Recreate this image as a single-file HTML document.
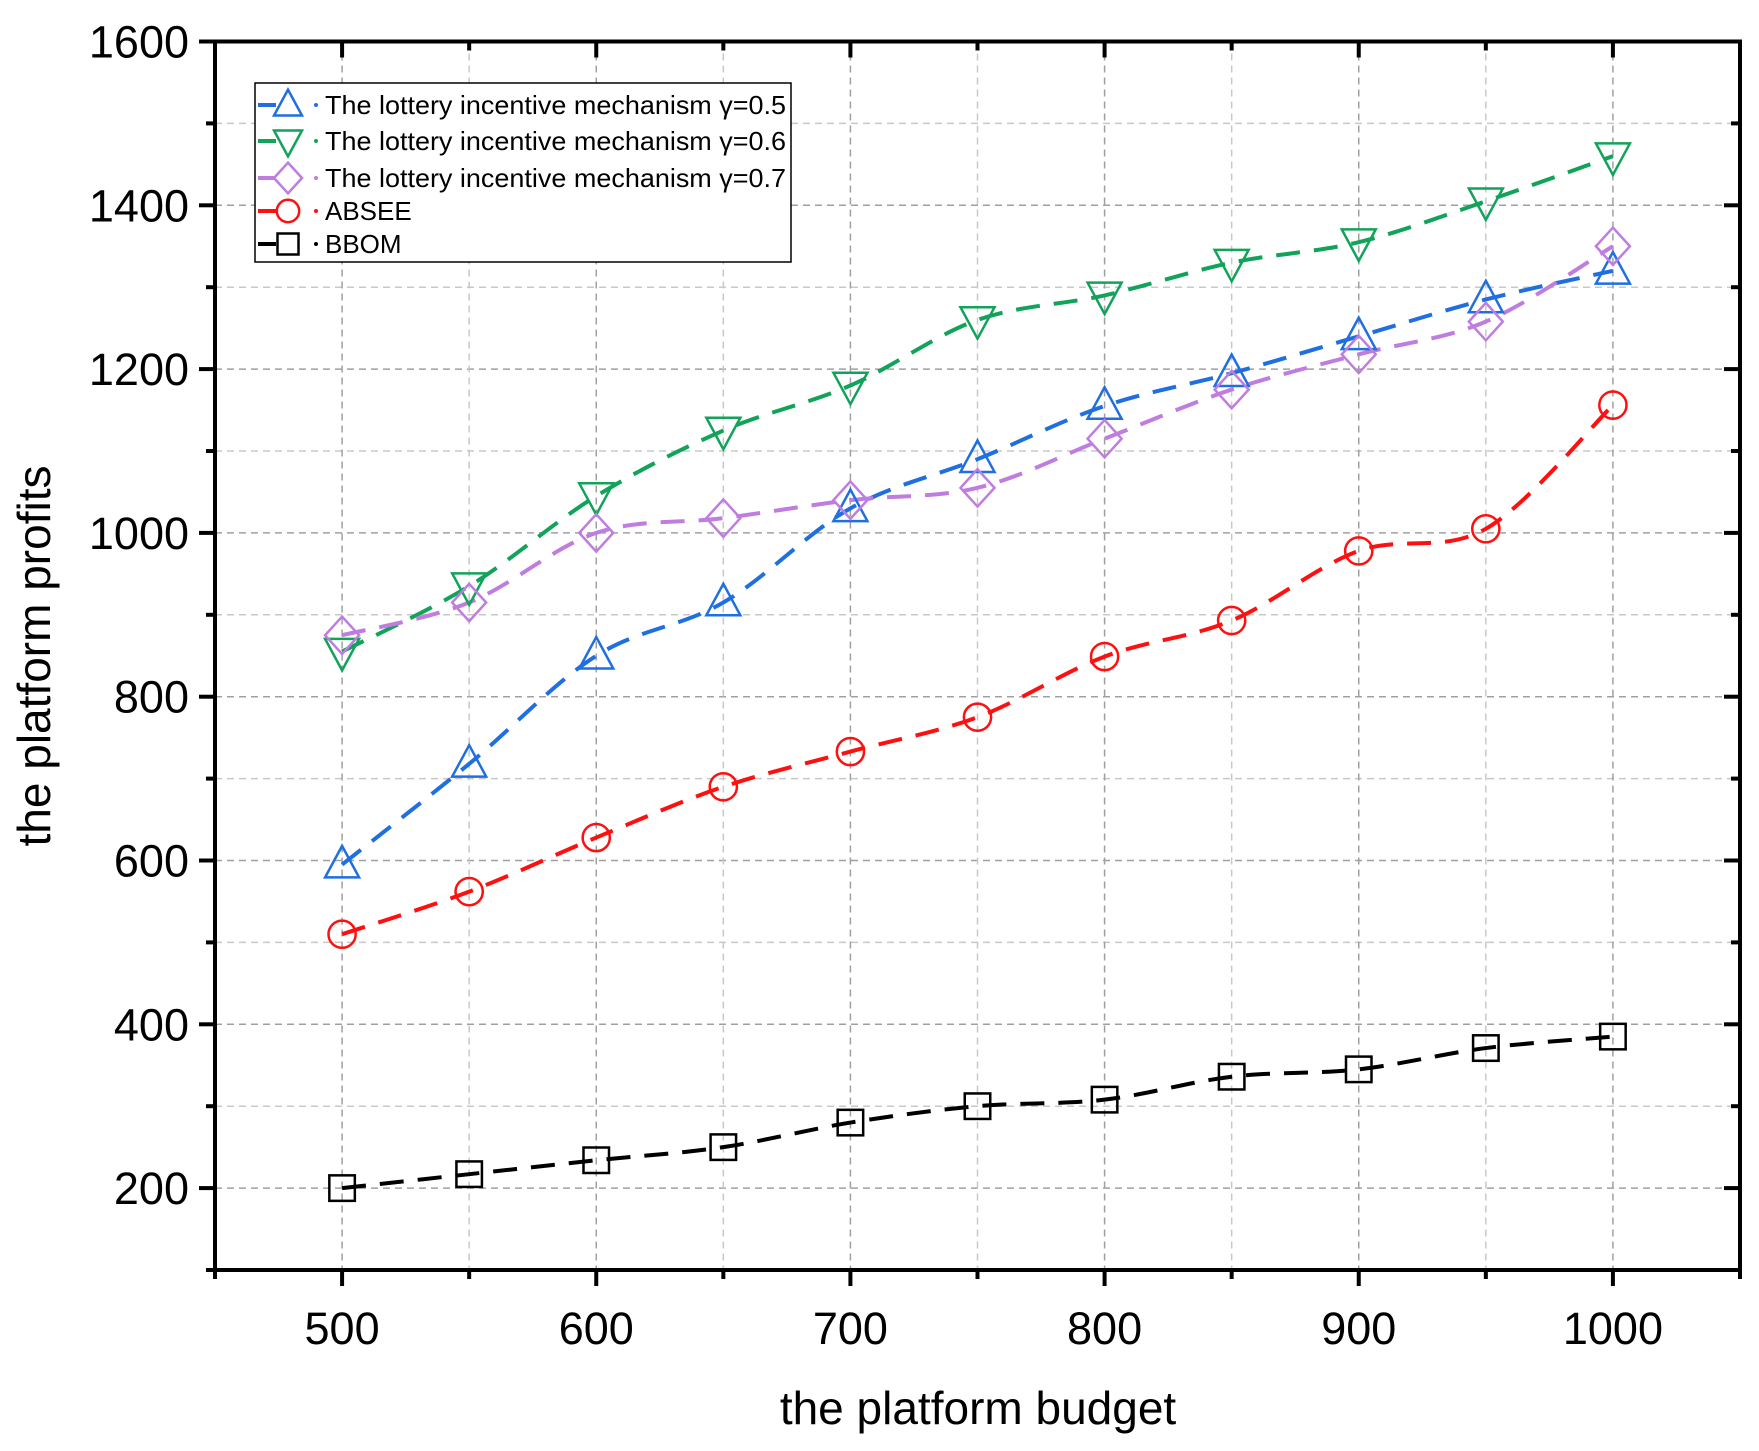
<!DOCTYPE html>
<html><head><meta charset="utf-8"><style>
html,body{margin:0;padding:0;background:#fff;}
svg{display:block;font-family:"Liberation Sans",Arial,sans-serif;}
</style></head><body>
<svg id="s" width="1759" height="1451" xmlns="http://www.w3.org/2000/svg"></svg>
<script>
const s=document.getElementById('s');
const L=215,R=1740,T=41.5,B=1270;
const X=v=>L+(v-450)/600*(R-L);
const Y=v=>T+(1600-v)/1500*(B-T);
let h='';
for(let v=200;v<1600;v+=100){h+=`<line x1="${L}" x2="${R}" y1="${Y(v)}" y2="${Y(v)}" stroke="${v%200?'#c8c8c8':'#a0a0a0'}" stroke-width="1.5" stroke-dasharray="7,5"/>`;}
for(let v=500;v<=1000;v+=50){h+=`<line y1="${T}" y2="${B}" x1="${X(v)}" x2="${X(v)}" stroke="${v%100?'#c8c8c8':'#a0a0a0'}" stroke-width="1.5" stroke-dasharray="7,5"/>`;}
const xs=[500,550,600,650,700,750,800,850,900,950,1000];
const S=[
 {c:'#1f6fe0',m:'tri',d:[595,718,850,915,1030,1090,1155,1195,1240,1285,1320]},
 {c:'#12a35a',m:'inv',d:[855,935,1045,1125,1180,1260,1290,1330,1355,1405,1460]},
 {c:'#c07de0',m:'dia',d:[875,915,1000,1018,1040,1055,1115,1175,1218,1258,1350]},
 {c:'#ff1010',m:'cir',d:[510,562,628,690,733,775,849,893,978,1005,1156]},
 {c:'#000',m:'sq',d:[200,217,234,250,280,300,308,336,345,371,385]}];
function mk(m,x,y,c,r){
 if(m=='tri')return `<polygon points="${x},${y-r*1.1} ${x-r},${y+r*0.75} ${x+r},${y+r*0.75}" fill="none" stroke="${c}" stroke-width="2.5"/>`;
 if(m=='inv')return `<polygon points="${x},${y+r*1.1} ${x-r},${y-r*0.75} ${x+r},${y-r*0.75}" fill="none" stroke="${c}" stroke-width="2.5"/>`;
 if(m=='dia')return `<polygon points="${x},${y-r*1.1} ${x+r},${y} ${x},${y+r*1.1} ${x-r},${y}" fill="none" stroke="${c}" stroke-width="2.5"/>`;
 if(m=='cir')return `<circle cx="${x}" cy="${y}" r="${r*0.8}" fill="none" stroke="${c}" stroke-width="2.5"/>`;
 return `<rect x="${x-r*0.75}" y="${y-r*0.75}" width="${r*1.5}" height="${r*1.5}" fill="none" stroke="${c}" stroke-width="2.5"/>`;
}
S.forEach(o=>{
 const p=xs.map((x,i)=>[X(x),Y(o.d[i])]);
 let d=`M${p[0][0]},${p[0][1]}`;
 for(let i=0;i<p.length-1;i++){
  const p0=p[i-1]||p[i],p1=p[i],p2=p[i+1],p3=p[i+2]||p2;
  d+=` C${p1[0]+(p2[0]-p0[0])/6},${p1[1]+(p2[1]-p0[1])/6} ${p2[0]-(p3[0]-p1[0])/6},${p2[1]-(p3[1]-p1[1])/6} ${p2[0]},${p2[1]}`;
 }
 h+=`<path d="${d}" fill="none" stroke="${o.c}" stroke-width="4" stroke-dasharray="24,14"/>`;
});
S.forEach(o=>{xs.forEach((x,i)=>{h+=mk(o.m,X(x),Y(o.d[i]),o.c,17);});});
h+=`<rect x="${L}" y="${T}" width="${R-L}" height="${B-T}" fill="none" stroke="#000" stroke-width="4"/>`;
for(let v=100;v<=1600;v+=100){const y=Y(v),maj=v%200==0;const l=maj?16:9;
 h+=`<line x1="${L-l}" x2="${L}" y1="${y}" y2="${y}" stroke="#000" stroke-width="4"/><line x1="${R}" x2="${R-l}" y1="${y}" y2="${y}" stroke="#000" stroke-width="4"/>`;
 if(maj)h+=`<text x="${L-26}" y="${y+16}" font-size="45" text-anchor="end">${v}</text>`;}
for(let v=450;v<=1050;v+=50){const x=X(v),maj=v%100==0;const l=maj?16:9;
 h+=`<line x1="${x}" x2="${x}" y1="${B}" y2="${B+l}" stroke="#000" stroke-width="4"/><line x1="${x}" x2="${x}" y1="${T}" y2="${T+l}" stroke="#000" stroke-width="4"/>`;
 if(maj&&v>=500&&v<=1000)h+=`<text x="${x}" y="${B+74}" font-size="45" text-anchor="middle">${v}</text>`;}
h+=`<text x="978" y="1424" font-size="46" text-anchor="middle">the platform budget</text>`;
h+=`<text transform="translate(50,656) rotate(-90)" font-size="46" text-anchor="middle">the platform profits</text>`;
h+=`<rect x="255" y="83" width="536" height="179" fill="#fff" stroke="#000" stroke-width="1.5"/>`;
const labs=['The lottery incentive mechanism \u03b3=0.5','The lottery incentive mechanism \u03b3=0.6','The lottery incentive mechanism \u03b3=0.7','ABSEE','BBOM'];
const ly=[105,141,178,211,244];
S.forEach((o,i)=>{const y=ly[i];
 h+=`<line x1="258" x2="276" y1="${y}" y2="${y}" stroke="${o.c}" stroke-width="4"/><circle cx="316" cy="${y}" r="2" fill="${o.c}"/>`;
 h+=mk(o.m,288,y,o.c,14);
 const tl=i<3?' textLength="461" lengthAdjust="spacingAndGlyphs"':'';
 h+=`<text x="325" y="${y+9}" font-size="26"${tl}>${labs[i]}</text>`;});
s.innerHTML=h;
</script>
</body></html>
